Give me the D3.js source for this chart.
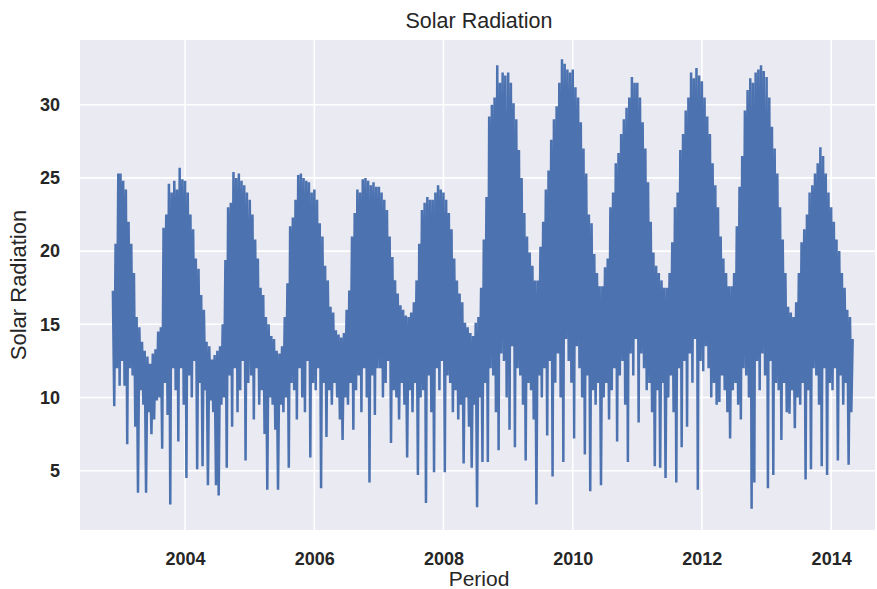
<!DOCTYPE html>
<html>
<head>
<meta charset="utf-8">
<script src="https://cdn.jsdelivr.net/npm/d3@7/dist/d3.min.js"></script>
<style>
  body { margin: 0; background: #ffffff; }
  text { font-family: "Liberation Sans", Arial, sans-serif; fill: #262626; }
</style>
</head>
<body>
<svg id="chart" width="877" height="589"></svg>
<script>
// Readings: four per month (peak, low, peak, low).
// 2002 starts on 19 Nov, every other year on 1 Jan.
var solar2002 = [17.3, 9.4, 20.5, 12.0, 25.3, 10.8, 24.6, 12.5];

var solar2003 = [
    25.3, 12.5, 24.8, 10.8,   24.2, 6.8, 22.0, 12.0,   20.5, 11.5, 18.5, 8.0,
    15.5, 3.5, 14.8, 10.5,    13.8, 9.5, 13.2, 3.5,    12.8, 9.0, 12.3, 7.5,
    13.0, 8.5, 13.3, 9.8,     14.5, 10.0, 14.8, 6.5,   21.6, 11.0, 22.5, 8.8,
    24.6, 2.7, 24.0, 12.0,    24.8, 10.5, 24.2, 7.0,   25.7, 12.0, 24.9, 9.5];

var solar2004 = [
    24.8, 4.5, 24.0, 11.5,    22.5, 10.0, 21.5, 12.5,  19.5, 5.1, 18.8, 11.0,
    17.0, 5.3, 16.0, 10.5,    13.8, 4.0, 13.5, 9.8,    12.6, 9.0, 12.9, 4.0,
    13.2, 3.3, 13.5, 9.5,     15.0, 10.0, 19.4, 5.2,   23.0, 11.5, 23.3, 8.0,
    25.4, 12.0, 25.0, 9.0,    25.3, 10.5, 24.8, 12.5,  24.5, 5.7, 24.0, 11.0];

var solar2005 = [
    23.5, 11.5, 22.5, 8.5,    20.8, 12.0, 19.5, 9.5,   17.5, 10.5, 17.0, 7.5,
    15.5, 3.7, 15.0, 10.0,    14.2, 9.5, 14.0, 7.8,    13.2, 3.7, 13.0, 9.5,
    13.5, 9.0, 15.5, 10.0,    17.8, 5.2, 21.7, 11.0,   22.3, 10.5, 23.5, 8.5,
    25.2, 12.0, 25.3, 10.0,   25.0, 9.0, 24.8, 12.5,   24.7, 5.9, 24.0, 11.0];

var solar2006 = [
    24.2, 10.5, 23.5, 12.0,   21.9, 3.8, 21.0, 11.0,   19.0, 7.3, 18.0, 10.5,
    16.2, 9.5, 15.8, 11.0,    14.6, 10.0, 14.3, 8.5,   14.1, 7.1, 14.4, 10.0,
    16.0, 9.5, 17.3, 11.0,    21.0, 7.8, 22.6, 10.5,   24.2, 11.5, 24.0, 9.0,
    24.9, 12.0, 25.0, 10.0,   24.8, 4.2, 24.5, 11.5,   24.7, 8.8, 24.4, 12.0];

var solar2007 = [
    24.4, 12.0, 24.0, 10.0,   23.5, 11.0, 22.8, 12.5,  21.0, 6.9, 19.6, 10.5,
    18.0, 10.0, 17.1, 8.5,    16.3, 11.0, 16.0, 9.5,   15.6, 5.9, 15.5, 10.5,
    15.8, 9.0, 16.5, 11.0,    18.0, 4.7, 20.5, 10.0,   22.8, 10.5, 23.3, 2.8,
    23.7, 11.5, 23.5, 9.0,    23.5, 4.9, 24.0, 12.0,   24.5, 10.5, 24.2, 12.5];

var solar2008 = [
    24.0, 4.9, 23.5, 11.5,    22.6, 11.0, 21.5, 9.0,   19.5, 10.5, 18.0, 8.5,
    17.1, 9.5, 16.5, 5.5,     15.1, 10.0, 14.8, 8.0,   14.4, 5.2, 14.2, 9.5,
    15.1, 2.5, 15.5, 10.0,    17.5, 5.6, 20.8, 11.0,   23.7, 5.6, 29.2, 12.0,
    30.0, 11.5, 30.5, 9.0,    32.7, 6.4, 31.5, 13.0,   32.2, 12.5, 32.0, 10.0];

var solar2009 = [
    32.2, 7.8, 31.5, 13.5,    30.1, 6.6, 29.0, 12.0,   26.9, 11.5, 25.0, 9.5,
    22.6, 5.7, 21.0, 11.0,    19.9, 10.5, 19.0, 8.5,   18.0, 2.7, 18.0, 11.5,
    20.3, 10.0, 22.0, 12.0,   24.2, 7.4, 25.5, 12.5,   27.6, 4.6, 29.0, 11.0,
    29.9, 13.0, 31.5, 10.0,   33.1, 5.6, 32.8, 14.0,   32.4, 12.5, 32.2, 11.0];

var solar2010 = [
    32.4, 7.2, 31.2, 13.5,    30.5, 12.0, 28.8, 10.0,  27.0, 6.1, 25.3, 11.5,
    22.5, 3.6, 21.9, 10.5,    19.8, 9.5, 18.5, 11.0,   17.6, 4.0, 17.6, 10.0,
    18.9, 11.0, 19.5, 8.5,    23.0, 10.5, 24.0, 12.0,  26.0, 7.0, 26.7, 11.5,
    28.0, 12.5, 29.0, 9.5,    29.8, 5.6, 30.5, 13.0,   31.9, 11.5, 31.5, 14.0];

var solar2011 = [
    31.5, 8.3, 30.5, 13.0,    28.8, 12.0, 27.0, 10.5,  24.7, 11.0, 22.0, 9.0,
    19.9, 5.3, 19.0, 10.5,    18.5, 5.2, 18.0, 11.0,   17.5, 4.5, 17.5, 10.0,
    18.5, 11.5, 20.6, 9.0,    23.0, 4.2, 24.0, 12.0,   26.9, 6.6, 28.0, 12.5,
    29.6, 8.0, 30.5, 13.0,    32.2, 11.0, 31.8, 14.0,  32.5, 3.7, 32.0, 12.5];

var solar2012 = [
    31.6, 11.8, 30.5, 13.5,   29.2, 12.0, 28.0, 10.0,  26.0, 11.0, 24.5, 9.5,
    23.0, 9.7, 21.0, 11.5,    19.5, 10.5, 18.5, 9.0,   17.6, 7.2, 17.6, 10.5,
    18.5, 11.0, 21.7, 9.5,    24.4, 8.5, 26.5, 12.0,   29.6, 11.5, 31.0, 10.0,
    31.8, 2.4, 31.5, 4.2,     32.2, 12.5, 32.4, 10.5,  32.7, 13.0, 32.3, 11.5];

var solar2013 = [
    31.9, 3.8, 30.5, 12.5,    28.5, 4.7, 27.0, 11.0,   25.3, 10.5, 23.0, 7.1,
    20.8, 11.0, 18.5, 9.0,    16.2, 8.9, 15.8, 10.5,   15.5, 7.9, 16.5, 10.0,
    18.5, 9.5, 20.6, 11.0,    21.5, 4.4, 22.5, 10.5,   24.0, 5.1, 24.5, 12.0,
    25.3, 11.5, 26.0, 9.5,    27.1, 5.3, 26.5, 12.0,   25.3, 4.7, 24.0, 11.0];

var solar2014 = [
    23.0, 10.5, 22.0, 12.0,   20.8, 5.7, 20.0, 11.5,   18.5, 9.5, 17.5, 11.0,
    16.0, 5.4, 15.5, 9.0,     14.0];

var yTicks = [5, 10, 15, 20, 25, 30];
var xTickYears = [2004, 2006, 2008, 2010, 2012, 2014];

var svg = d3.select("#chart");

// Plot box (seaborn darkgrid)
var plot = {left: 80, top: 40, right: 875, bottom: 530};
var labelX = 479;

// Put every year's readings on a date axis
var stepDays = 365 / 48;
var series = [
    {start: new Date(2002, 10, 19), values: solar2002},
    {start: new Date(2003, 0, 1), values: solar2003},
    {start: new Date(2004, 0, 1), values: solar2004},
    {start: new Date(2005, 0, 1), values: solar2005},
    {start: new Date(2006, 0, 1), values: solar2006},
    {start: new Date(2007, 0, 1), values: solar2007},
    {start: new Date(2008, 0, 1), values: solar2008},
    {start: new Date(2009, 0, 1), values: solar2009},
    {start: new Date(2010, 0, 1), values: solar2010},
    {start: new Date(2011, 0, 1), values: solar2011},
    {start: new Date(2012, 0, 1), values: solar2012},
    {start: new Date(2013, 0, 1), values: solar2013},
    {start: new Date(2014, 0, 1), values: solar2014}
];
var data = [];
series.forEach(function (s) {
    s.values.forEach(function (v, i) {
        data.push({date: d3.timeHour.offset(s.start, Math.round(i * stepDays * 24)), value: v});
    });
});

var x = d3.scaleTime()
    .domain([new Date(2002, 4, 17), new Date(2014, 8, 6)])
    .range([plot.left, plot.right]);

var y = d3.scaleLinear()
    .domain([0.95, 34.42])
    .range([plot.bottom, plot.top]);

// Background
svg.append("rect")
    .attr("x", plot.left).attr("y", plot.top)
    .attr("width", plot.right - plot.left)
    .attr("height", plot.bottom - plot.top)
    .attr("fill", "#eaeaf2");

// Grid lines
var grid = svg.append("g").attr("class", "grid");
grid.selectAll(".gx")
    .data(xTickYears)
    .join("line")
    .attr("x1", function (d) { return x(new Date(d, 0, 1)); })
    .attr("x2", function (d) { return x(new Date(d, 0, 1)); })
    .attr("y1", plot.top).attr("y2", plot.bottom)
    .attr("stroke", "#ffffff").attr("stroke-width", 1.6);
grid.selectAll(".gy")
    .data(yTicks)
    .join("line")
    .attr("x1", plot.left).attr("x2", plot.right)
    .attr("y1", function (d) { return y(d); })
    .attr("y2", function (d) { return y(d); })
    .attr("stroke", "#ffffff").attr("stroke-width", 1.6);

// The series
var line = d3.line()
    .x(function (d) { return x(d.date); })
    .y(function (d) { return y(d.value); });

svg.append("path")
    .datum(data)
    .attr("fill", "none")
    .attr("stroke", "#4c72b0")
    .attr("stroke-width", 2.5)
    .attr("stroke-linejoin", "bevel")
    .attr("d", line);

// Axes (no tick marks, no spines)
var xAxis = svg.append("g")
    .attr("transform", "translate(0," + plot.bottom + ")")
    .call(d3.axisBottom(x)
        .tickValues(xTickYears.map(function (d) { return new Date(d, 0, 1); }))
        .tickFormat(d3.timeFormat("%Y"))
        .tickSize(0)
        .tickPadding(22));

var yAxis = svg.append("g")
    .attr("transform", "translate(" + plot.left + ",0)")
    .call(d3.axisLeft(y)
        .tickValues(yTicks)
        .tickSize(0)
        .tickPadding(20));

[xAxis, yAxis].forEach(function (g) {
    g.select(".domain").remove();
    g.selectAll("text")
        .attr("fill", "#262626")
        .style("font-family", "'Liberation Sans', Arial, sans-serif")
        .style("font-size", "18px")
        .style("font-weight", "bold");
});

// Title and labels
svg.append("text")
    .attr("x", labelX)
    .attr("y", 28)
    .attr("text-anchor", "middle")
    .style("font-size", "21.5px")
    .text("Solar Radiation");

svg.append("text")
    .attr("x", labelX)
    .attr("y", 586)
    .attr("text-anchor", "middle")
    .style("font-size", "21px")
    .text("Period");

svg.append("text")
    .attr("transform", "translate(26," + (plot.top + plot.bottom) / 2 + ") rotate(-90)")
    .attr("text-anchor", "middle")
    .style("font-size", "22px")
    .text("Solar Radiation");
</script>
</body>
</html>
